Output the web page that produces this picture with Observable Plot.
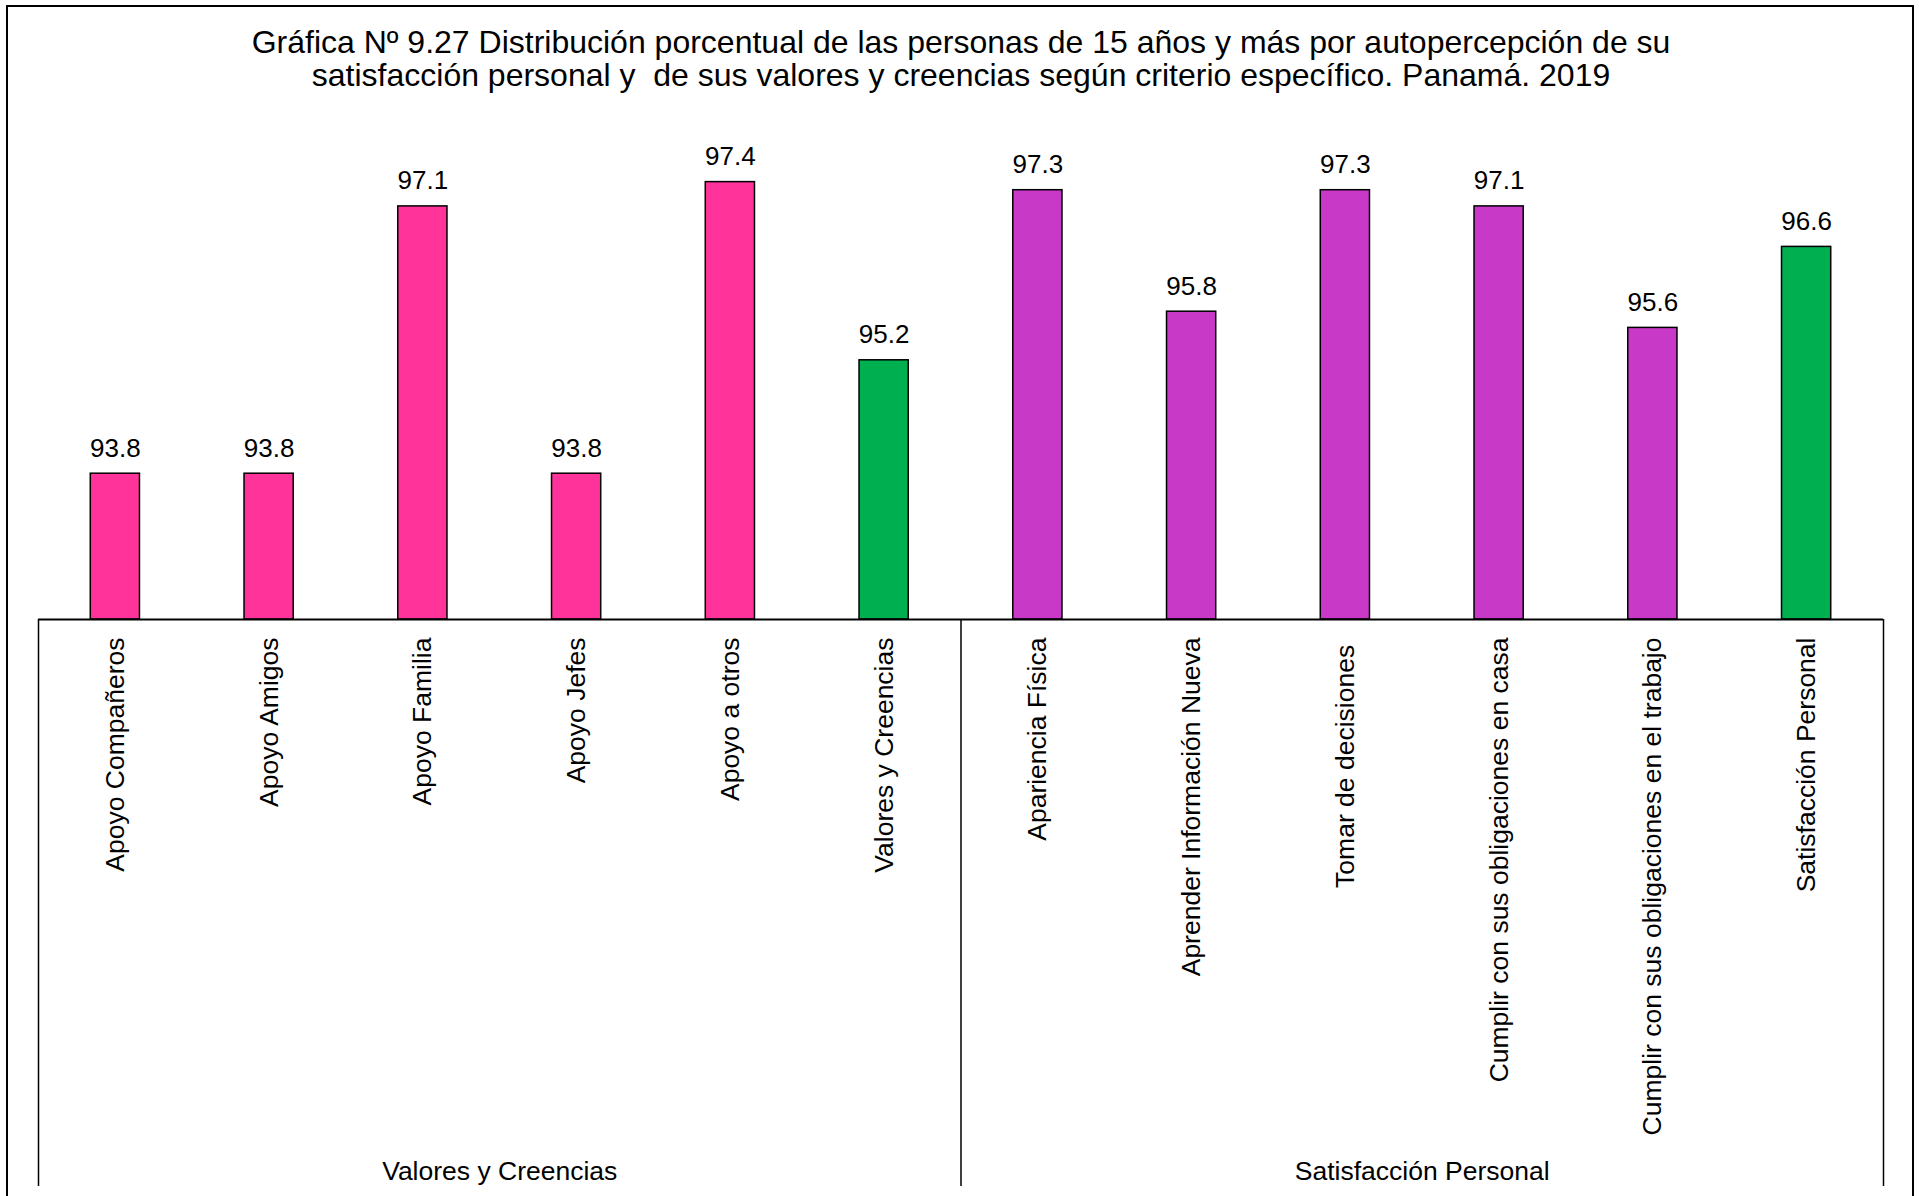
<!DOCTYPE html>
<html>
<head>
<meta charset="utf-8">
<script src="https://cdn.jsdelivr.net/npm/d3@7"></script>
<script src="https://cdn.jsdelivr.net/npm/@observablehq/plot@0.6"></script>
<style>
  html, body { margin: 0; padding: 0; background: #fff; overflow: hidden; }
  #wrap { position: relative; width: 1919px; height: 1196px; }
  #wrap svg { max-width: none !important; }
  #border { position: absolute; left: 6px; top: 5px; width: 1904px; height: 1400px; border: 2px solid #000; box-sizing: content-box; pointer-events: none; }
  svg text { white-space: pre; }
</style>
</head>
<body>
<div id="wrap"><div id="border"></div></div>
<script>
const titleText = "Gráfica Nº 9.27 Distribución porcentual de las personas de 15 años y más por autopercepción de su\nsatisfacción personal y  de sus valores y creencias según criterio específico. Panamá. 2019";

const categories = [
  "Apoyo Compañeros", "Apoyo Amigos", "Apoyo Familia", "Apoyo Jefes", "Apoyo a otros", "Valores y Creencias",
  "Apariencia Física", "Aprender Información Nueva", "Tomar de decisiones ", "Cumplir con sus obligaciones en casa",
  "Cumplir con sus obligaciones en el trabajo", "Satisfacción Personal"
];
const values = [93.8, 93.8, 97.1, 93.8, 97.4, 95.2, 97.3, 95.8, 97.3, 97.1, 95.6, 96.6];
const groups = [
  "Valores y Creencias", "Valores y Creencias", "Valores y Creencias", "Valores y Creencias", "Valores y Creencias", "Valores y Creencias",
  "Satisfacción Personal", "Satisfacción Personal", "Satisfacción Personal", "Satisfacción Personal", "Satisfacción Personal", "Satisfacción Personal"
];
const kinds = ["valores", "valores", "valores", "valores", "valores", "total",
               "satisfaccion", "satisfaccion", "satisfaccion", "satisfaccion", "satisfaccion", "total"];
const groupNames = ["Valores y Creencias", "Satisfacción Personal"];
const kindDomain = ["valores", "satisfaccion", "total"];
const kindColors = ["#FF3399", "#C839C8", "#00B050"];
const yMin = 92, yMax = 98, yBottom = 85;

const data = categories.map((c, i) => ({cat: c, value: values[i], group: groups[i], kind: kinds[i]}));

const W = 1919, H = 1196, mL = 38, mR = 36, mT = 133, mB = 577;
const step = (W - mL - mR) / categories.length;

// group boundaries & midpoints derived from the group arrays
const leftEdges = groupNames.map(g => categories[groups.indexOf(g)]);
const rightEdge = [categories[categories.length - 1]];
const groupMid = groupNames.map(g => {
  const first = groups.indexOf(g);
  const n = groups.filter(x => x === g).length;
  return {name: g, at: categories[first + n / 2]};
});

const font = "'Liberation Sans', Arial, sans-serif";

const plot = Plot.plot({
  width: W, height: H,
  marginLeft: mL, marginRight: mR, marginTop: mT, marginBottom: mB,
  style: {fontFamily: font, color: "#000", background: "transparent"},
  x: {type: "band", domain: categories, paddingInner: 0.68, paddingOuter: 0.34, round: false, axis: null},
  y: {domain: [yMin, yMax], axis: null},
  color: {domain: kindDomain, range: kindColors},
  marks: [
    Plot.barY(data, {x: "cat", y1: yMin, y2: "value", fill: "kind", stroke: "#000", strokeWidth: 1.5}),
    Plot.ruleY([yMin], {stroke: "#000", strokeWidth: 2}),
    Plot.ruleX(leftEdges, {x: d => d, dx: -step / 2, y1: yMin, y2: yBottom, stroke: "#000", strokeWidth: 1.5}),
    Plot.ruleX(rightEdge, {x: d => d, dx: step / 2, y1: yMin, y2: yBottom, stroke: "#000", strokeWidth: 1.5}),
    Plot.text(data, {x: "cat", y: "value", text: d => d.value.toFixed(1), lineAnchor: "bottom", dy: -17, fontSize: 26, fill: "#000"}),
    Plot.text(data, {x: "cat", y: yMin, text: "cat", rotate: -90, textAnchor: "end", lineAnchor: "middle", dy: 18, fontSize: 26.5, fill: "#000"}),
    Plot.text(groupMid, {x: "at", y: yMin, text: "name", dx: -step / 2, dy: 560, lineAnchor: "bottom", fontSize: 26.5, fill: "#000"}),
    Plot.text([titleText], {frameAnchor: "top", text: d => d, lineAnchor: "bottom", dy: -48, lineHeight: 1.02, fontSize: 32, fill: "#000"})
  ]
});
document.getElementById("wrap").prepend(plot);
</script>
</body>
</html>
